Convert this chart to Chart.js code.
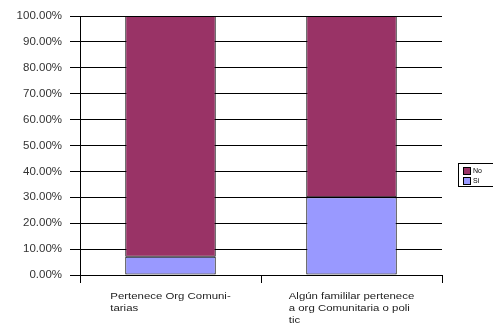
<!DOCTYPE html>
<html>
<head>
<meta charset="utf-8">
<script src="https://cdn.jsdelivr.net/npm/chart.js@4/dist/chart.umd.min.js"></script>
<style>
  html, body { margin: 0; padding: 0; background: #fff; }
  #wrap { width: 493px; height: 332px; }
</style>
</head>
<body>
<div id="wrap"><canvas id="chart"></canvas></div>
<script>
// Categories (wrapped as in the sheet) and stacked shares per answer
const categories = [
    ["Pertenece Org Comuni-", "tarias"],
    ["Algún famililar pertenece", "a org Comunitaria o poli", "tic"]
];
const siValues = [0.07, 0.30];
const noValues = [0.93, 0.70];
const seriesNames = ["Si", "No"];
const seriesColors = ["#9999ff", "#993366"];

const FONT = "'Liberation Sans', Arial, sans-serif";

// x labels: block centred on the category, lines left aligned
const xLabels = {
    id: "xLabels",
    afterDraw(chart) {
        const ctx = chart.ctx;
        const xs = chart.scales.x;
        ctx.save();
        ctx.font = "9.5px " + FONT;
        ctx.fillStyle = "#222";
        ctx.textBaseline = "top";
        categories.forEach((lines, i) => {
            const cx = xs.getPixelForValue(i);
            const w = Math.max(...lines.map(l => ctx.measureText(l).width)) * 1.2;
            lines.forEach((l, j) => {
                ctx.save();
                ctx.translate(cx - w / 2, chart.chartArea.bottom + 17 + j * 12);
                ctx.scale(1.2, 1);
                ctx.fillText(l, 0, 0);
                ctx.restore();
            });
        });
        ctx.restore();
    }
};

// small boxed legend at the right edge, "No" on top
const sideLegend = {
    id: "sideLegend",
    afterDraw(chart) {
        const ctx = chart.ctx;
        const x = 458, y = 163;
        ctx.save();
        ctx.fillStyle = "#fff";
        ctx.fillRect(x, y, 40, 23);
        ctx.strokeStyle = "#000";
        ctx.lineWidth = 1;
        ctx.strokeRect(x + 0.5, y + 0.5, 40, 23);
        ctx.font = "7px " + FONT;
        ctx.textBaseline = "middle";
        const ds = chart.data.datasets.slice().reverse();
        ds.forEach((d, i) => {
            const yy = y + 4 + i * 10;
            ctx.fillStyle = d.backgroundColor;
            ctx.fillRect(x + 5, yy, 7, 7);
            ctx.strokeRect(x + 5.5, yy + 0.5, 7, 7);
            ctx.fillStyle = "#000";
            ctx.fillText(d.label, x + 15, yy + 4);
        });
        ctx.restore();
    }
};

new Chart(document.getElementById("chart"), {
    type: "bar",
    data: {
        labels: categories.map(c => c.join(" ")),
        datasets: [
            { label: seriesNames[0], data: siValues, backgroundColor: seriesColors[0] },
            { label: seriesNames[1], data: noValues, backgroundColor: seriesColors[1] }
        ]
    },
    options: {
        responsive: true,
        maintainAspectRatio: false,
        animation: false,
        devicePixelRatio: 1,
        layout: { padding: { top: 16, right: 51, left: 0, bottom: 0 } },
        datasets: {
            bar: {
                borderColor: "#000",
                borderWidth: 1,
                borderSkipped: false,
                barPercentage: 0.5,
                categoryPercentage: 1
            }
        },
        plugins: {
            legend: { display: false },
            tooltip: { enabled: false }
        },
        scales: {
            x: {
                stacked: true,
                afterFit: s => { s.height = 57; },
                border: { color: "#000", width: 1 },
                grid: { drawOnChartArea: false, color: "#000", tickLength: 8 },
                ticks: { display: false }
            },
            y: {
                stacked: true,
                min: 0,
                max: 1,
                afterFit: s => { s.width = 80; },
                border: { color: "#000", width: 1 },
                grid: { color: "#000", tickLength: 10 },
                ticks: {
                    stepSize: 0.1,
                    padding: 8,
                    color: "#333",
                    font: { family: FONT, size: 11.5 },
                    callback: v => (v * 100).toFixed(2) + "%"
                }
            }
        }
    },
    plugins: [xLabels, sideLegend]
});
</script>
</body>
</html>
